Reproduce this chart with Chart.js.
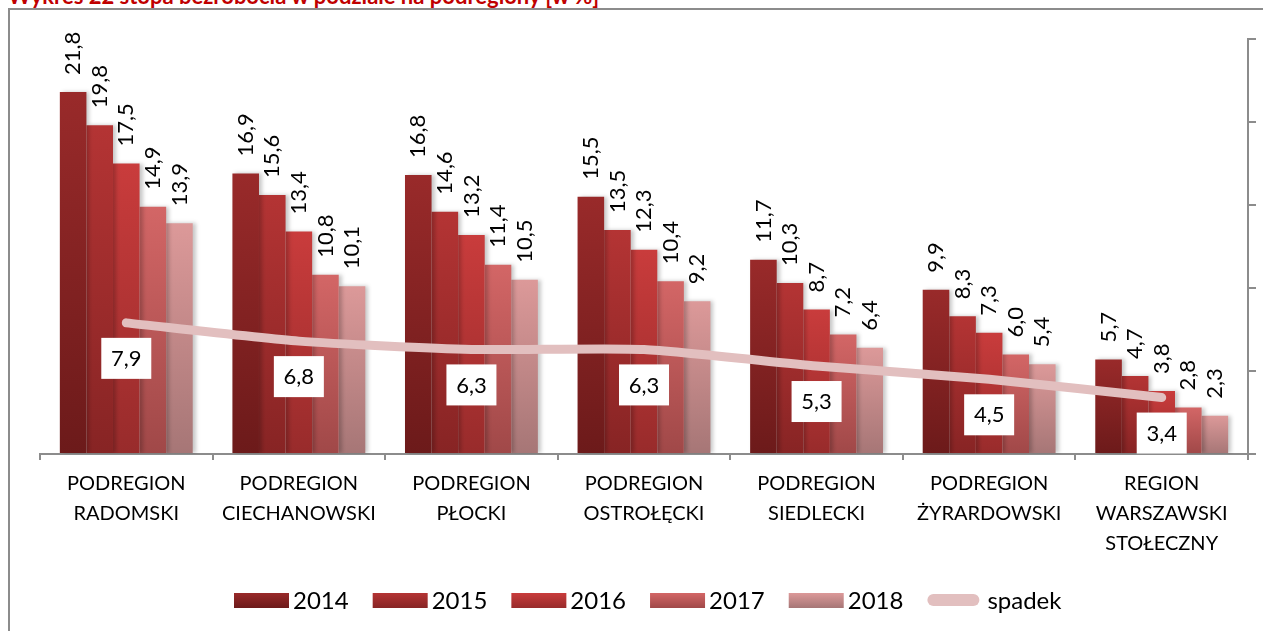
<!DOCTYPE html>
<html>
<head>
<meta charset="utf-8">
<script src="https://cdn.jsdelivr.net/npm/chart.js@4.4.1/dist/chart.umd.min.js"></script>
<style>
  html, body { margin: 0; padding: 0; background: #fff; overflow: hidden; }
  body { width: 1263px; height: 631px; position: relative; }
  #title {
    position: absolute; left: 8px; top: -18px;
    font: bold 22px Lato, sans-serif; color: #c00000; white-space: nowrap;
  }
  #frame {
    position: absolute; left: 8px; top: 8px; width: 1260px; height: 630px;
    border-top: 2px solid #8c8c8c; border-left: 2px solid #8c8c8c;
  }
  #chart { position: absolute; left: 1px; top: 1px; }
</style>
</head>
<body>
<div id="title">Wykres 22 stopa bezrobocia w podziale na podregiony [w %]</div>
<div id="frame"><canvas id="chart" width="1254" height="622"></canvas></div>
<script>
// --- Data ---
const categories = [
    ['PODREGION', 'RADOMSKI'],
    ['PODREGION', 'CIECHANOWSKI'],
    ['PODREGION', 'PŁOCKI'],
    ['PODREGION', 'OSTROŁĘCKI'],
    ['PODREGION', 'SIEDLECKI'],
    ['PODREGION', 'ŻYRARDOWSKI'],
    ['REGION', 'WARSZAWSKI', 'STOŁECZNY']
];
const years = ['2014', '2015', '2016', '2017', '2018'];
const values2014 = [21.8, 16.9, 16.8, 15.5, 11.7, 9.9, 5.7];
const values2015 = [19.8, 15.6, 14.6, 13.5, 10.3, 8.3, 4.7];
const values2016 = [17.5, 13.4, 13.2, 12.3, 8.7, 7.3, 3.8];
const values2017 = [14.9, 10.8, 11.4, 10.4, 7.2, 6.0, 2.8];
const values2018 = [13.9, 10.1, 10.5, 9.2, 6.4, 5.4, 2.3];
const spadek = [7.9, 6.8, 6.3, 6.3, 5.3, 4.5, 3.4];

// top / bottom colours of each bar gradient
const barColors = [
    ['#992a2a', '#6c1a1a'],
    ['#b43434', '#872424'],
    ['#c93c3c', '#982b2b'],
    ['#d36666', '#a04848'],
    ['#dc9999', '#a67676']
];
const lineColor = '#e2bfbf';
const FONT = 'Lato, "Open Sans", sans-serif';

const fmt = v => v.toFixed(1).replace('.', ',');

// per-bar vertical gradient
function barGradient(idx) {
    return (context) => {
        const chart = context.chart;
        const { ctx, chartArea, scales } = chart;
        if (!chartArea || context.type !== 'data') return barColors[idx][0];
        const top = scales.y.getPixelForValue(context.parsed.y);
        const bottom = scales.y.getPixelForValue(0);
        if (!isFinite(top) || top === bottom) return barColors[idx][0];
        const g = ctx.createLinearGradient(0, top, 0, bottom);
        g.addColorStop(0, barColors[idx][0]);
        g.addColorStop(1, barColors[idx][1]);
        return g;
    };
}

const barSeries = [values2014, values2015, values2016, values2017, values2018];
const datasets = barSeries.map((vals, i) => ({
    type: 'bar',
    label: years[i],
    data: vals,
    backgroundColor: barGradient(i),
    borderWidth: 0,
    categoryPercentage: 0.77,
    barPercentage: 1.0,
    order: 1
}));
datasets.push({
    type: 'line',
    label: 'spadek',
    data: spadek,
    borderColor: lineColor,
    borderWidth: 9,
    borderCapStyle: 'round',
    borderJoinStyle: 'round',
    pointRadius: 0,
    tension: 0.2,
    order: 0
});

// --- Plugins ---
const barShadow = {
    id: 'barShadow',
    beforeDatasetDraw(chart, args) {
        if (args.meta.type !== 'bar') return;
        const ctx = chart.ctx;
        ctx.save();
        ctx.shadowColor = 'rgba(0,0,0,0.22)';
        ctx.shadowBlur = 4;
        ctx.shadowOffsetX = 3;
        ctx.shadowOffsetY = 0;
    },
    afterDatasetDraw(chart, args) {
        if (args.meta.type !== 'bar') return;
        chart.ctx.restore();
    }
};

const valueLabels = {
    id: 'valueLabels',
    afterDatasetsDraw(chart) {
        const ctx = chart.ctx;
        chart.data.datasets.forEach((ds, i) => {
            const meta = chart.getDatasetMeta(i);
            meta.data.forEach((el, j) => {
                const txt = fmt(ds.data[j]);
                if (ds.type === 'bar') {
                    ctx.save();
                    ctx.translate(el.x, el.y - 17);
                    ctx.rotate(-Math.PI / 2);
                    ctx.font = '22px ' + FONT;
                    ctx.fillStyle = '#000';
                    ctx.textAlign = 'left';
                    ctx.textBaseline = 'middle';
                    ctx.fillText(txt, 0, 0);
                    ctx.restore();
                } else {
                    const cx = el.x, cy = el.y + 35;
                    ctx.save();
                    ctx.fillStyle = '#fff';
                    ctx.fillRect(cx - 25, cy - 20, 50, 41);
                    ctx.font = '22px ' + FONT;
                    ctx.fillStyle = '#000';
                    ctx.textAlign = 'center';
                    ctx.textBaseline = 'middle';
                    ctx.fillText(txt, cx, cy + 1);
                    ctx.restore();
                }
            });
        });
    }
};

const customLegend = {
    id: 'customLegend',
    afterDraw(chart) {
        const ctx = chart.ctx;
        const y = 589;
        ctx.save();
        ctx.font = '24px ' + FONT;
        ctx.textBaseline = 'middle';
        const items = chart.data.datasets.map((ds, i) => ({
            label: ds.label,
            line: ds.type === 'line',
            idx: i
        }));
        const gap = 24;
        items.forEach(it => {
            it.sym = it.line ? 52 : 55;
            it.pad = it.line ? 8 : 4;
            it.tw = ctx.measureText(it.label).width;
            it.w = it.sym + it.pad + it.tw;
        });
        let x = 232 - 9;
        items.forEach(it => {
            if (it.line) {
                ctx.strokeStyle = lineColor;
                ctx.lineWidth = 12;
                ctx.lineCap = 'round';
                ctx.beginPath();
                ctx.moveTo(x + 6, y);
                ctx.lineTo(x + it.sym - 6, y);
                ctx.stroke();
            } else {
                const g = ctx.createLinearGradient(0, y - 7, 0, y + 8);
                g.addColorStop(0, barColors[it.idx][0]);
                g.addColorStop(1, barColors[it.idx][1]);
                ctx.fillStyle = g;
                ctx.fillRect(x, y - 7, it.sym, 15);
            }
            ctx.fillStyle = '#000';
            ctx.textAlign = 'left';
            ctx.fillText(it.label, x + it.sym + it.pad, y + 1);
            x += it.w + gap;
        });
        ctx.restore();
    }
};

new Chart(document.getElementById('chart'), {
    data: { labels: categories, datasets },
    options: {
        responsive: false,
        animation: false,
        layout: { padding: { left: 29, top: 28, right: 0, bottom: 0 } },
        plugins: {
            legend: { display: false },
            tooltip: { enabled: false }
        },
        scales: {
            x: {
                offset: true,
                grid: {
                    display: true,
                    offset: true,
                    drawOnChartArea: false,
                    drawTicks: true,
                    tickLength: 6,
                    color: '#8c8c8c',
                    lineWidth: 2
                },
                border: { display: true, color: '#8c8c8c', width: 2 },
                ticks: {
                    color: '#000',
                    font: { family: FONT, size: 20, lineHeight: 1.5 },
                    padding: 9,
                    maxRotation: 0,
                    autoSkip: false
                },
                afterFit(scale) { scale.height = 179; }
            },
            y: {
                position: 'right',
                min: 0,
                max: 25,
                ticks: { stepSize: 5, display: false },
                grid: {
                    display: true,
                    drawOnChartArea: false,
                    drawTicks: true,
                    tickLength: 8,
                    color: '#8c8c8c',
                    lineWidth: 2
                },
                border: { display: true, color: '#8c8c8c', width: 2 },
                afterFit(scale) { scale.width = 17; }
            }
        }
    },
    plugins: [barShadow, valueLabels, customLegend]
});
</script>
</body>
</html>
